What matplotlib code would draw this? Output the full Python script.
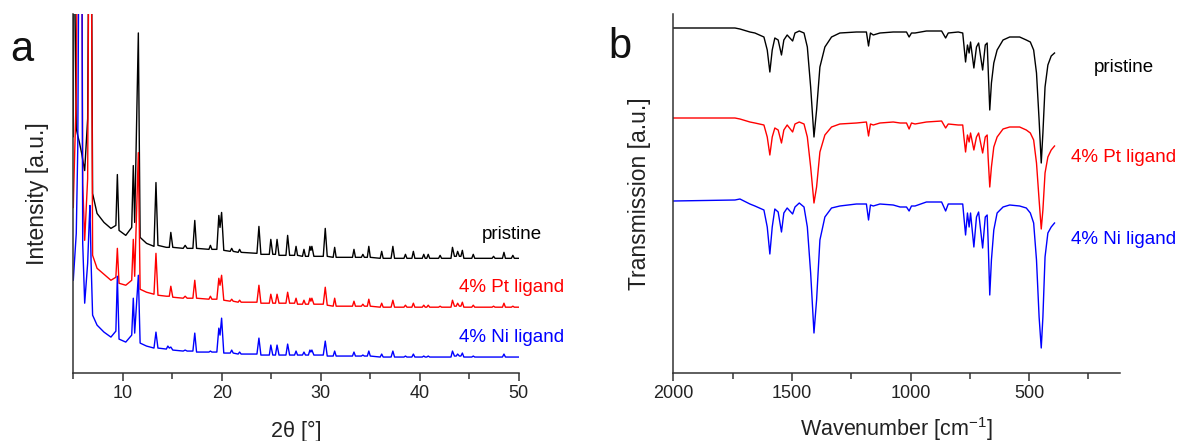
import matplotlib
matplotlib.use("Agg")
import matplotlib.pyplot as plt
from matplotlib.ticker import MultipleLocator

plt.rcParams["font.family"] = ["Liberation Sans", "DejaVu Sans"]
plt.rcParams["mathtext.fontset"] = "custom"
plt.rcParams["mathtext.rm"] = "Liberation Sans"
plt.rcParams["mathtext.default"] = "regular"

# ---- panel a: PXRD, vertices (intensity in a.u., stacked) ----
two_theta = [
    5.0, 5.03, 5.3, 5.45, 5.6, 5.85, 5.95, 6.15, 6.45, 6.6, 6.68, 6.8, 6.95,
    7.4, 8.1, 8.8, 9.3, 9.45, 9.62, 10.3, 10.9, 11.06, 11.2,
    11.57, 11.75, 12.4, 13.15, 13.35, 13.55, 14.4, 14.55, 14.7, 14.85,
    15.05, 16.1, 16.3, 16.5, 17.08, 17.27, 17.45, 18.7, 18.85, 19.0,
    19.5, 19.7, 19.82, 19.98, 20.2, 20.85, 21.0, 21.15, 21.65, 21.8,
    21.95, 23.55, 23.75, 23.95, 24.8, 24.95, 25.15, 25.42, 25.58, 25.78,
    26.48, 26.65, 26.85, 27.35, 27.5, 27.65, 28.15, 28.3, 28.45, 28.75,
    28.9, 29.0, 29.1, 29.3, 30.25, 30.45, 30.65, 31.25, 31.4, 31.55,
    33.2, 33.35, 33.5, 34.1, 34.25, 34.4, 34.7, 34.85, 35.0, 36.0,
    36.15, 36.3, 37.1, 37.28, 37.45, 38.4, 38.55, 38.7, 39.2, 39.35,
    39.5, 40.25, 40.4, 40.55, 40.7, 40.85, 41.0, 41.9, 42.05, 42.2,
    43.15, 43.3, 43.5, 43.68, 43.82, 44.0, 44.15, 44.3, 44.45, 45.25,
    45.4, 45.55, 47.3, 47.45, 47.6, 48.35, 48.5, 48.65, 49.25, 49.4,
    49.55, 50.0,
]
xrd_pristine = [
    237, 500, 245, 238, 232, 220, 214, 203, 255, 500, 500, 500, 180,
    160, 151, 145, 148, 199, 143, 138, 146, 208, 151,
    341, 136, 130, 127, 191, 128, 126, 126, 126, 141,
    126, 125, 128, 125, 125, 153, 125, 124, 128, 124,
    124, 158, 146, 161, 123, 122, 125, 122, 121, 124,
    121, 120, 147, 119, 119, 134, 119, 119, 134, 118,
    118, 138, 118, 118, 127, 118, 117, 124, 117, 117,
    127, 123, 127, 117, 117, 145, 117, 116, 126, 116,
    116, 124, 116, 116, 119, 116, 116, 127, 116, 115,
    122, 115, 115, 127, 115, 115, 119, 115, 115, 122,
    115, 115, 119, 115, 115, 119, 115, 115, 118, 115,
    115, 126, 117, 117, 122, 117, 117, 123, 115, 115,
    119, 115, 115, 117, 115, 115, 121, 115, 115, 118,
    115, 115,
]
xrd_pt = [
    166, 180, 280, 500, 500, 500, 190, 133, 195, 500, 500, 500, 118,
    105, 99, 93, 96, 125, 90, 88, 93, 134, 97,
    221, 84, 81, 79, 120, 78, 77, 77, 77, 87,
    76, 75, 77, 75, 75, 93, 75, 74, 77, 74,
    74, 95, 88, 98, 73, 72, 74, 72, 71, 73,
    71, 71, 88, 70, 70, 79, 70, 70, 79, 70,
    70, 81, 70, 70, 75, 69, 69, 73, 69, 69,
    75, 72, 75, 69, 69, 86, 68, 67, 75, 67,
    67, 72, 67, 67, 69, 67, 67, 74, 67, 66,
    70, 66, 66, 73, 66, 66, 68, 66, 66, 70,
    66, 66, 68, 66, 66, 68, 66, 66, 67, 66,
    66, 73, 67, 67, 70, 67, 67, 71, 66, 66,
    68, 66, 66, 67, 66, 66, 70, 66, 66, 67,
    66, 66,
]
xrd_ni = [
    93, 98, 140, 225, 500, 500, 130, 70, 110, 150, 168, 110, 58,
    48, 41, 36, 42, 97, 34, 31, 38, 75, 40,
    98, 30, 27, 25, 41, 25, 24, 27, 25, 26,
    23, 22, 23, 22, 22, 40, 21, 21, 22, 21,
    21, 45, 38, 55, 20, 20, 23, 20, 19, 21,
    19, 19, 35, 18, 18, 28, 18, 18, 28, 18,
    18, 29, 18, 18, 22, 18, 18, 21, 18, 18,
    23, 21, 23, 18, 18, 32, 17, 17, 22, 17,
    17, 21, 17, 17, 18, 17, 17, 22, 17, 16,
    19, 16, 16, 22, 16, 16, 17, 16, 16, 19,
    16, 16, 17, 16, 16, 17, 16, 16, 16, 16,
    16, 22, 17, 17, 19, 17, 17, 20, 16, 16,
    17, 16, 16, 16, 16, 16, 19, 16, 16, 16,
    16, 16,
]

# ---- panel b: FTIR, vertices (transmission in a.u., stacked) ----
wavenumber = [
    2000, 1740, 1719, 1677, 1656, 1618, 1604, 1593, 1583, 1572,
    1558, 1544, 1534, 1520, 1497, 1487, 1469, 1449, 1435, 1421,
    1407, 1396, 1382, 1361, 1333, 1298, 1228, 1186, 1177, 1169,
    1157, 1129, 1073, 1044, 1017, 1006, 996, 981, 933, 869,
    852, 841, 799, 780, 775, 768, 760, 753, 747, 733,
    722, 713, 696, 685, 677, 673, 666, 659, 649, 635,
    610, 582, 540, 512, 495, 481, 469, 458, 449, 442,
    433, 421, 407, 393,
]
ir_pristine = [
    345, 345, 344, 341, 340, 336, 323, 301, 323, 335,
    333, 318, 333, 338, 332, 340, 342, 340, 326, 286,
    236, 263, 306, 326, 336, 340, 341, 341, 327, 340,
    338, 340, 341, 341, 341, 336, 340, 340, 342, 342,
    335, 340, 341, 340, 328, 311, 328, 320, 331, 305,
    326, 330, 303, 328, 330, 306, 263, 290, 310, 323,
    333, 336, 336, 333, 331, 323, 300, 253, 210, 240,
    286, 308, 317, 320,
]
ir_pt = [
    255, 255, 254, 251, 250, 248, 236, 218, 236, 245,
    243, 230, 243, 248, 241, 249, 251, 249, 236, 206,
    170, 186, 221, 238, 246, 249, 250, 251, 237, 249,
    248, 250, 251, 250, 250, 244, 250, 249, 251, 252,
    245, 249, 248, 248, 236, 221, 238, 231, 240, 223,
    236, 240, 220, 236, 238, 216, 186, 206, 226, 236,
    244, 246, 246, 243, 240, 233, 210, 173, 144, 163,
    200, 216, 223, 227,
]
ir_ni = [
    172, 173, 174, 169, 167, 163, 146, 119, 146, 164,
    161, 141, 160, 165, 159, 166, 170, 166, 146, 100,
    40, 73, 133, 156, 165, 167, 169, 169, 153, 168,
    167, 169, 168, 166, 166, 162, 167, 167, 171, 171,
    162, 169, 169, 169, 156, 138, 160, 146, 160, 126,
    156, 161, 125, 156, 158, 133, 78, 113, 143, 160,
    166, 168, 167, 165, 160, 150, 113, 56, 25, 56,
    116, 140, 146, 150,
]

labels = ["pristine", "4% Pt ligand", "4% Ni ligand"]
colors = ["black", "#ff0000", "#0000ff"]

W, H = 1179, 441
fig = plt.figure(figsize=(W / 100, H / 100), dpi=100)
ax_a = fig.add_axes([73.3 / W, 1 - 373 / H, 445.5 / W, 359 / H])
ax_b = fig.add_axes([673.3 / W, 1 - 373 / H, 446.7 / W, 359 / H])

for y, c in zip([xrd_pristine, xrd_pt, xrd_ni], colors):
    ax_a.plot(two_theta, y, color=c, lw=1.0)
for y, c in zip([ir_pristine, ir_pt, ir_ni], colors):
    ax_b.plot(wavenumber, y, color=c, lw=1.0)

ax_a.set_xlim(5, 50)
ax_a.set_ylim(0, 360)
ax_a.xaxis.set_major_locator(MultipleLocator(10))
ax_a.xaxis.set_minor_locator(MultipleLocator(5))

ax_b.set_xlim(2000, 117)
ax_b.set_ylim(0, 359)
ax_b.xaxis.set_major_locator(MultipleLocator(500))
ax_b.xaxis.set_minor_locator(MultipleLocator(250))

for ax in (ax_a, ax_b):
    for s in ("top", "right"):
        ax.spines[s].set_visible(False)
    for s in ("left", "bottom"):
        ax.spines[s].set_color("#333333")
        ax.spines[s].set_linewidth(1.1)
    ax.set_yticks([])
    ax.tick_params(axis="x", which="major", direction="out", length=6, width=1.1,
                   color="#333333", labelsize=13, labelcolor="#222222", pad=3)
    ax.tick_params(axis="x", which="minor", direction="out", length=4, width=1.1,
                   color="#333333")

ax_a.set_xlabel("2θ [°]", fontsize=15.5, color="#222222")
ax_a.set_ylabel("Intensity [a.u.]", fontsize=16.5, color="#222222")
ax_b.set_xlabel("Wavenumber [cm$^{-1}$]", fontsize=15.5, color="#222222")
ax_b.set_ylabel("Transmission [a.u.]", fontsize=16.5, color="#222222")
ax_a.xaxis.set_label_coords(0.5, -0.133)
ax_b.xaxis.set_label_coords(0.5, -0.118)
ax_a.yaxis.set_label_coords(-0.055, 0.5)
ax_b.yaxis.set_label_coords(-0.05, 0.5)

# series names next to the traces
for (x, ys) in [(512, [235, 288, 337]), (1124, [67, 157, 239])]:
    for lab, c, y in zip(labels, colors, ys):
        fig.text(x / W, 1 - y / H, lab, color=c, fontsize=13.5, ha="center", va="center")

fig.text(22 / W, 1 - 50 / H, "a", fontsize=30, ha="center", va="center", color="#111111")
fig.text(620 / W, 1 - 47 / H, "b", fontsize=30, ha="center", va="center", color="#111111")

fig.savefig("out.png", dpi=100)
